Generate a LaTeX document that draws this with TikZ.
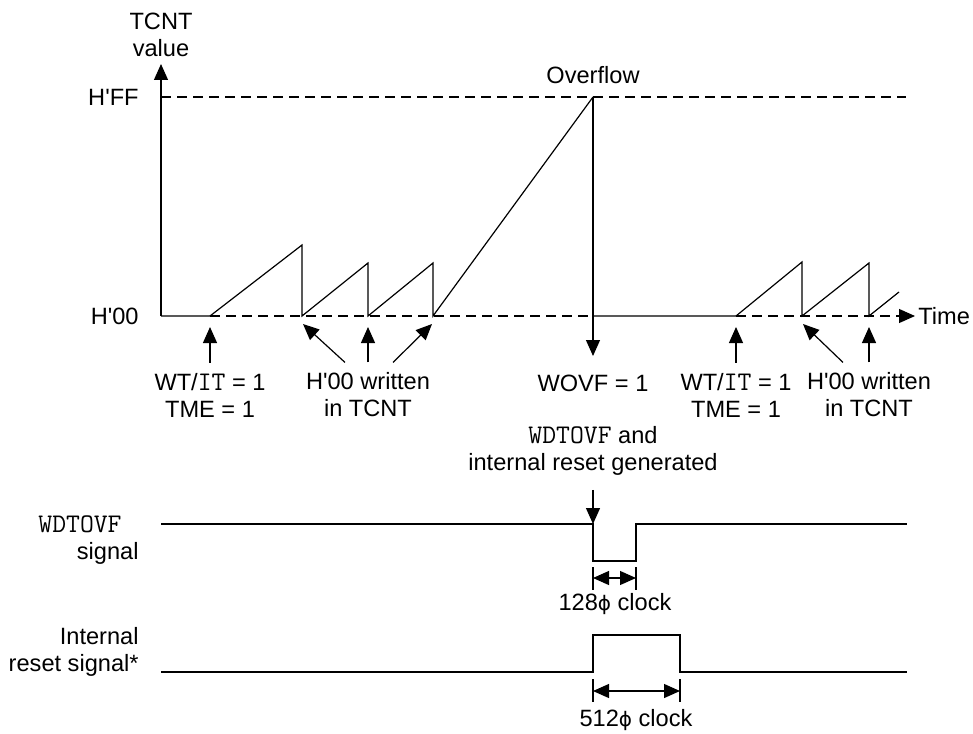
\documentclass[tikz,border=0pt]{standalone}
\usepackage{fontspec}
\setmainfont{Liberation Sans}
\setmonofont{Latin Modern Mono}[Scale=1.14]
\newfontfamily\greekfont{DejaVu Sans}
\usetikzlibrary{arrows.meta,positioning}
\newcommand{\pinname}[1]{\texttt{#1}}
\newcommand{\hx}[1]{H\textquotesingle #1}
\newcommand{\clkphi}{{\greekfont\fontsize{10}{12}\selectfont ϕ}}

\begin{document}
\begin{tikzpicture}[
  x=0.5pt,y=-0.5pt,
  lbl/.style={font=\fontsize{11.8}{13.5}\selectfont,align=center,inner sep=0pt},
  wave/.style={line width=0.6pt},
  base/.style={line width=0.6pt,dash pattern=on 5pt off 3pt},
  arr/.style={-{Triangle[length=8pt,width=7pt]},line width=0.6pt},
  dim/.style={{Triangle[length=8pt,width=7pt]}-{Triangle[length=8pt,width=7pt]},line width=0.6pt}
]
\useasboundingbox (0,0) rectangle (973,733);

% TCNT axis and counting
\coordinate (o) at (161,316);
\coordinate (top) at (161,64);
\coordinate (a) at (210,316);
\coordinate (p1) at (302,245);
\coordinate (b) at (302,316);
\coordinate (p2) at (368,263);
\coordinate (c) at (368,316);
\coordinate (p3) at (433,263);
\coordinate (d) at (433,316);
\coordinate (ov) at (593,97);
\coordinate (e) at (593,316);
\coordinate (ovtip) at (593,356);
\coordinate (f) at (736,316);
\coordinate (p4) at (802,262);
\coordinate (g) at (802,316);
\coordinate (p5) at (869,263);
\coordinate (h) at (869,316);
\coordinate (p6) at (899,292);
\coordinate (tend) at (915,316);
\coordinate (ffstart) at (161,97);
\coordinate (ffend) at (906,97);

\node[lbl] (tcnt) at (161,35) {TCNT\\value};
\node[lbl,anchor=east] (hff) at (139,97) {\hx{FF}};
\node[lbl,anchor=east] (h00) at (139,316) {\hx{00}};
\node[lbl,anchor=west] (time) at (918,316) {Time};
\node[lbl] (over) at (593,75) {Overflow};

\draw[arr] (o) -- (top);
\draw[base] (ffstart) -- (ffend);
\draw[wave] (o) -- (a) -- (p1) -- (b) -- (p2) -- (c) -- (p3) -- (d) -- (ov);
\draw[arr] (ov) -- (ovtip);
\draw[base] (a) -- (e);
\draw[wave] (e) -- (f) -- (p4) -- (g) -- (p5) -- (h) -- (p6);
\draw[base,-{Triangle[length=8pt,width=7pt]}] (f) -- (tend);

% events on the time axis
\node[lbl] (wt1) at (210,395) {WT/\pinname{IT} = 1\\TME = 1};
\node[lbl] (hw1) at (368,395) {\hx{00} written\\in TCNT};
\node[lbl] (wovf) at (593,383) {WOVF = 1};
\node[lbl] (wt2) at (736,395) {WT/\pinname{IT} = 1\\TME = 1};
\node[lbl] (hw2) at (869,395) {\hx{00} written\\in TCNT};

\draw[arr] ([yshift=5pt]wt1.north) -- ([yshift=-5.5pt]a);
\draw[arr] ([xshift=-11.5pt,yshift=5pt]hw1.north) -- ([xshift=0.5pt,yshift=-4pt]b);
\draw[arr] ([yshift=5pt]hw1.north) -- ([yshift=-5.5pt]c);
\draw[arr] ([xshift=12.5pt,yshift=5pt]hw1.north) -- ([xshift=-0.5pt,yshift=-4pt]d);
\draw[arr] ([yshift=5pt]wt2.north) -- ([yshift=-5.5pt]f);
\draw[arr] ([xshift=-13pt,yshift=5pt]hw2.north) -- ([xshift=0.5pt,yshift=-4pt]g);
\draw[arr] ([yshift=5pt]hw2.north) -- ([yshift=-5.5pt]h);

% WDTOVF signal
\node[lbl] (gen) at (593,451) {\pinname{WDTOVF} and\\internal reset generated};
\node[lbl,align=right,anchor=east] (wdtlbl) at (139,540) {\pinname{WDTOVF}\hspace*{8.5pt}\\signal};
\coordinate (w0) at (161,524);
\coordinate (w1) at (593,524);
\coordinate (w2) at (593,561);
\coordinate (w3) at (636,561);
\coordinate (w4) at (636,524);
\coordinate (w5) at (907,524);
\draw[wave] (w0) -- (w1) -- (w2) -- (w3) -- (w4) -- (w5);
\draw[arr] ([yshift=-7pt]gen.south) -- (w1);

\draw[wave] (593,567) -- (593,590);
\draw[wave] (636,567) -- (636,590);
\draw[dim] (593,578) -- (636,578);
\node[lbl] (clk128) at (615,604) {128\clkphi{} clock};

% internal reset signal
\node[lbl,align=right,anchor=east] (rstlbl) at (139,652) {Internal\\reset signal*};
\coordinate (r0) at (161,672);
\coordinate (r1) at (593,672);
\coordinate (r2) at (593,635);
\coordinate (r3) at (680,635);
\coordinate (r4) at (680,672);
\coordinate (r5) at (907,672);
\draw[wave] (r0) -- (r1) -- (r2) -- (r3) -- (r4) -- (r5);

\draw[wave] (593,679) -- (593,702);
\draw[wave] (680,679) -- (680,702);
\draw[dim] (593,691) -- (680,691);
\node[lbl] (clk512) at (636,720) {512\clkphi{} clock};
\end{tikzpicture}
\end{document}
